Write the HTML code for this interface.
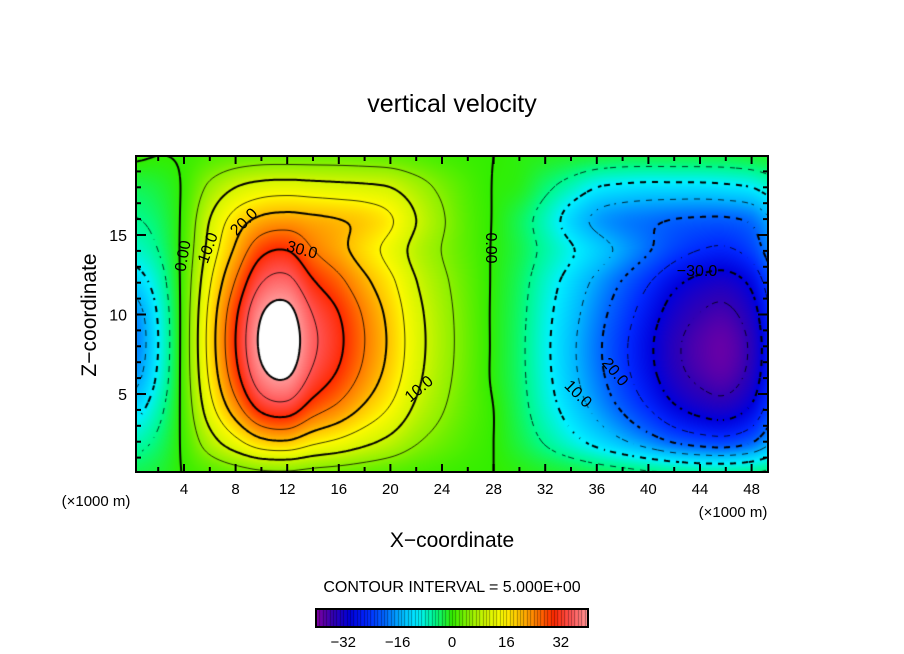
<!DOCTYPE html>
<html><head><meta charset="utf-8"><style>
html,body{margin:0;padding:0;background:#fff;}
#wrap{position:relative;width:904px;height:654px;overflow:hidden;font-family:"Liberation Sans",sans-serif;}
canvas{position:absolute;}
svg{position:absolute;left:0;top:0;}
</style></head><body>
<div id="wrap">
<canvas id="field" width="632" height="316" style="left:136px;top:156px"></canvas>
<canvas id="cbar" width="272" height="18" style="left:316px;top:609px"></canvas>
<svg id="ov" width="904" height="654"></svg>
</div>
<script>
// grid x coordinates (×1000 m) and z coordinates
const xCoords=[0,2,4,6,8,10,12,14,16,18,20,22,24,26,28,30,32,34,36,38,40,42,44,46,48,50];
const zCoords=[0,2,4,6,8,10,12,14,16,18,20];
// vertical velocity values, rows by z
const row0=[-3,-2,0.2,1.7,3,4.1,4.3,3.6,3.1,2.5,1.9,1.2,0.7,0.3,0,-0.6,-1.4,-2.1,-2.9,-3.6,-4.4,-5.1,-5.6,-5.7,-5.1,-3.6];
const row2=[-7,-4,0.9,7.7,13.5,18.5,19.4,16.2,14,11.3,8.6,5.4,3.2,1.4,0,-2.4,-5.4,-8.4,-11.4,-14.4,-17.4,-20.4,-22.2,-22.8,-20.4,-14.4];
const row4=[-12,-6.5,1.5,12.8,22.5,30.8,32.3,27,23.3,18.8,14.3,9,5.3,2.3,0,-3.4,-7.7,-11.9,-16.2,-20.4,-24.7,-28.9,-31.5,-32.3,-28.9,-20.4];
const row6=[-17,-9,1.9,15.8,27.9,38.1,40,33.5,28.8,23.3,17.7,11.2,6.5,2.8,-0.5,-3.9,-8.7,-13.6,-18.4,-23.3,-28.1,-33,-35.9,-36.9,-33,-23.3];
const row8=[-19,-10,2,17,30,41,43,36,31,25,19,12,7,3,-0.5,-4,-9,-14,-19,-24,-29,-34,-37,-38,-34,-24];
const row10=[-18,-9.5,1.9,16.5,29.1,39.8,41.7,34.9,30.1,24.3,18.4,11.6,6.8,2.9,-0.5,-3.8,-8.6,-13.3,-18.1,-22.8,-27.6,-32.3,-35.2,-36.1,-32.3,-22.8];
const row12=[-13,-7.5,1.7,14.5,25.5,34.9,36.6,30.6,26.4,21.3,16.2,10.2,6,2.6,-0.4,-3.4,-7.7,-11.9,-16.2,-20.4,-24.7,-28.9,-31.5,-32.3,-28.9,-20.4];
const row14=[-8,-5,1.4,11.9,21,28.7,30.1,25.2,21.7,17.5,13.3,8.4,4.9,2.1,-0.3,-2.7,-6.1,-9.5,-12.9,-16.3,-19.7,-23.1,-25.2,-25.8,-23.1,-16.3];
const row16=[-5.3,-3.5,1,10,17,21,22,21,20,18.5,15.5,10,5.5,2,-0.2,-3,-7,-12,-16,-18,-19,-20,-20.5,-20.5,-19,-14];
const row18=[-3,-2,0.5,6,10,12,12.5,12,11.5,11,10,7,4,1.5,-0.1,-1,-4,-7,-10,-11,-11.5,-11.5,-11.5,-11,-10,-7];
const row20=[0.5,0,0.3,1.5,2.5,3,3,3,3,2.8,2.5,1.8,1,0.4,0,-0.5,-1,-1.5,-2,-2.5,-2.5,-2.5,-2.5,-2.5,-2,-1.5];
const grid=[row0,row2,row4,row6,row8,row10,row12,row14,row16,row18,row20];
const xTicks=[4,8,12,16,20,24,28,32,36,40,44,48];
const zTicks=[5,10,15];
const cbTicks=[-32,-16,0,16,32];
const levels=[-35,-30,-25,-20,-15,-10,-5,0,5,10,15,20,25,30,35,40];

const X0=132.4,XS=12.9,Z0=473.5,ZS=15.9;
const sx=x=>X0+XS*x, sz=z=>Z0-ZS*z;
const ix=px=>(px-X0)/XS, iz=py=>(Z0-py)/ZS;

function cr(p0,p1,p2,p3,t){return 0.5*((2*p1)+(-p0+p2)*t+(2*p0-5*p1+4*p2-p3)*t*t+(-p0+3*p1-3*p2+p3)*t*t*t);}
const nR=grid.length,nC=grid[0].length;
function g(r,c){r=Math.max(0,Math.min(nR-1,r));c=Math.max(0,Math.min(nC-1,c));return grid[r][c];}
function val(x,z){
  const fx=(x-xCoords[0])/(xCoords[1]-xCoords[0]), fz=(z-zCoords[0])/(zCoords[1]-zCoords[0]);
  const c=Math.floor(fx), r=Math.floor(fz), tx=fx-c, tz=fz-r;
  const rows=[];
  for(let k=-1;k<=2;k++) rows.push(cr(g(r+k,c-1),g(r+k,c),g(r+k,c+1),g(r+k,c+2),tx));
  return cr(rows[0],rows[1],rows[2],rows[3],tz);
}
const stops=[[-40,[130,0,160]],[-35,[50,0,180]],[-30,[0,0,220]],[-25,[0,40,255]],[-20,[0,100,255]],[-15,[0,180,255]],[-10,[0,240,255]],[-5,[0,250,140]],[0,[50,238,0]],[5,[140,240,0]],[10,[210,245,0]],[15,[255,250,0]],[20,[255,190,0]],[25,[255,120,0]],[30,[255,40,0]],[35,[255,85,85]],[40,[255,150,150]]];
function col(v){
  if(v>40) return [255,255,255];
  if(v<=stops[0][0]) return stops[0][1];
  for(let i=1;i<stops.length;i++){ if(v<=stops[i][0]){const a=stops[i-1],b=stops[i],t=(v-a[0])/(b[0]-a[0]);return [0,1,2].map(k=>Math.round(a[1][k]+(b[1][k]-a[1][k])*t));}}
  return stops[stops.length-1][1];
}
// field fill
const fc=document.getElementById('field'),fx=fc.getContext('2d');
const W=632,H=316,img=fx.createImageData(W,H);
for(let j=0;j<H;j++)for(let i=0;i<W;i++){
  const v=val(ix(136+i+0.5),iz(156+j+0.5)), c=col(v), o=(j*W+i)*4;
  img.data[o]=c[0];img.data[o+1]=c[1];img.data[o+2]=c[2];img.data[o+3]=255;
}
fx.putImageData(img,0,0);
// contours via marching squares
const st=2,gw=W/st+1,gh=H/st+1,F=[];
for(let j=0;j<gh;j++){F.push([]);for(let i=0;i<gw;i++)F[j].push(val(ix(136+i*st),iz(156+j*st)));}
fx.strokeStyle='#000';fx.lineCap='butt';
levels.forEach(L=>{
  fx.lineWidth=(L%10===0)?2:0.8;
  fx.beginPath();
  for(let j=0;j<gh-1;j++)for(let i=0;i<gw-1;i++){
    const a=F[j][i],b=F[j][i+1],c=F[j+1][i+1],d=F[j+1][i];
    const pts=[];
    const e=(v1,v2,x1,y1,x2,y2)=>{if((v1<L)!==(v2<L)){const t=(L-v1)/(v2-v1);pts.push([x1+(x2-x1)*t,y1+(y2-y1)*t]);}};
    const X=i*st,Y=j*st;
    e(a,b,X,Y,X+st,Y);e(b,c,X+st,Y,X+st,Y+st);e(d,c,X,Y+st,X+st,Y+st);e(a,d,X,Y,X,Y+st);
    for(let k=0;k+1<pts.length;k+=2){
      const mx=(pts[k][0]+pts[k+1][0])/2,my=(pts[k][1]+pts[k+1][1])/2;
      if(L<0 && (Math.floor(mx/6)+Math.floor(my/6))%2!==0) continue;
      fx.moveTo(pts[k][0],pts[k][1]);fx.lineTo(pts[k+1][0],pts[k+1][1]);
    }
  }
  fx.stroke();
});
// colorbar
const cb=document.getElementById('cbar'),cx=cb.getContext('2d');
for(let i=0;i<272;i++){const v=-40+80*(i+0.5)/272;const c=col(Math.min(v,39.9));cx.fillStyle=`rgb(${c[0]},${c[1]},${c[2]})`;cx.fillRect(i,0,1,18);}
cx.fillStyle='rgba(0,0,0,0.35)';
for(let u=-39;u<40;u++){cx.fillRect(Math.round((u+40)*3.4),0,1,18);}
// overlay svg
const NS='http://www.w3.org/2000/svg',ov=document.getElementById('ov');
function el(t,at,txt){const e=document.createElementNS(NS,t);for(const k in at)e.setAttribute(k,at[k]);if(txt!==undefined)e.textContent=txt;ov.appendChild(e);return e;}
let e;
e=el('rect',{x:136,y:156,width:632,height:316,fill:'none',stroke:'#000','stroke-width':2});


for(let x=2;x<=48;x+=2){
  const len=(x%4===0)?8:5;
  e=el('line',{x1:sx(x),x2:sx(x),y1:472,y2:472-len,stroke:'#000','stroke-width':2});
  
  
  e=el('line',{x1:sx(x),x2:sx(x),y1:156,y2:156+len,stroke:'#000','stroke-width':2});
  
  
}
for(let z=1;z<=19;z++){
  const len=(z%5===0)?10:5;
  e=el('line',{x1:136,x2:136+len,y1:sz(z),y2:sz(z),stroke:'#000','stroke-width':2});
  
  
  e=el('line',{x1:768,x2:768-len,y1:sz(z),y2:sz(z),stroke:'#000','stroke-width':2});
  
  
}
xTicks.forEach(x=>{
  e=el('text',{x:sx(x),y:494,'font-size':15,'text-anchor':'middle'},String(x));
  
  
});
zTicks.forEach(z=>{
  e=el('text',{x:127,y:sz(z)+6,'font-size':16,'text-anchor':'end'},String(z));
  
  
});
cbTicks.forEach(v=>{
  e=el('text',{x:452+v*3.4,y:647,'font-size':15,'text-anchor':'middle'},(v<0?'\u2212'+(-v):String(v)));
  
  
});
e=el('rect',{x:316,y:609,width:272,height:18,fill:'none',stroke:'#000','stroke-width':2});


e=el('text',{x:452,y:112,'font-size':25,'text-anchor':'middle'},'vertical velocity');


e=el('text',{x:452,y:547,'font-size':21,'text-anchor':'middle'},'X\u2212coordinate');


e=el('text',{x:0,y:0,'font-size':21,'text-anchor':'middle',transform:'translate(96,315) rotate(-90)'},'Z\u2212coordinate');


e=el('text',{x:96,y:506,'font-size':15,'text-anchor':'middle'},'(\u00d71000 m)');


e=el('text',{x:733,y:517,'font-size':15,'text-anchor':'middle'},'(\u00d71000 m)');


e=el('text',{x:452,y:592,'font-size':16,'text-anchor':'middle'},'CONTOUR INTERVAL = 5.000E+00');


const labels=[['0.00',183,256,-80],['10.0',208,248,-70],['20.0',244,222,-45],['30.0',302,250,15],['10.0',419,389,-40],['0.00',491,248,90],['\u221230.0',697,271,0],['20.0',615,372,50],['10.0',578,394,45]];
labels.forEach(l=>{
  e=el('text',{x:0,y:0,'font-size':16,'text-anchor':'middle',transform:`translate(${l[1]},${l[2]}) rotate(${l[3]}) translate(0,5)`},l[0]);
  
  
});
</script>
</body></html>
